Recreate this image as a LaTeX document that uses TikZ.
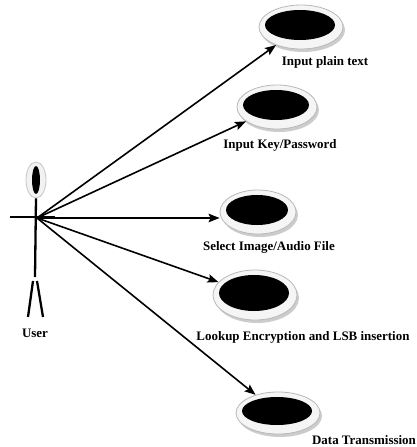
\documentclass[tikz,border=0pt]{standalone}
\usepackage{fontspec}
\setmainfont{Liberation Serif}
\usetikzlibrary{shapes.geometric,arrows.meta}
\newcommand\myucase[8]{%
  \fill[gray!40] (#2+2,#3+3) ellipse [x radius=#4, y radius=#5];
  \node[ucouter, minimum width=#4*2bp, minimum height=#5*2bp] (#1) at (#2,#3) {};
  \fill[black] (#2-1,#3-2) ellipse [x radius=#4-7, y radius=#5-7];
  \node[lab] (#1l) at (#7,#8) {#6};
}
\begin{document}
\begin{tikzpicture}[x=1bp,y=-1bp,
  ucouter/.style={ellipse, draw=gray!55, fill=gray!8, line width=0.8bp, inner sep=0pt},
  lab/.style={font=\fontsize{13}{15}\selectfont\bfseries, inner sep=0pt},
  arr/.style={line width=1.6bp, -{Stealth[length=11bp,width=8.5bp,inset=2bp]}},
  stick/.style={line width=2.3bp, line cap=butt}]
\useasboundingbox (0,0) rectangle (416,447);
% actor
\node[ellipse, draw=gray!45, fill=gray!10, line width=0.8bp, inner sep=0pt,
      minimum width=20bp, minimum height=36bp] (head) at (36,180) {};
\fill[black] (head.center) ellipse [x radius=4, y radius=14];
\coordinate (hand) at (37,218);
\coordinate (armL) at (10,217);
\coordinate (armR) at (55,217);
\coordinate (hip) at (35,277);
\coordinate (legLt) at (33,281);
\coordinate (legRt) at (37,281);
\coordinate (legLb) at (28,317);
\coordinate (legRb) at (43,317);
\draw[stick] (head.south) -- (hip);
\draw[stick] (armL) -- (armR);
\draw[stick] (legLt) -- (legLb);
\draw[stick] (legRt) -- (legRb);
\node[lab] (user) at (35,333) {User};
% use cases
\myucase{uca}{301}{27}{42}{22}{Input plain text}{325}{62}
\myucase{ucb}{277}{107}{40}{22}{Input Key/Password}{280}{145}
\myucase{ucc}{258}{212}{38}{22}{Select Image/Audio File}{269}{247}
\myucase{ucd}{255}{295}{42}{25}{Lookup Encryption and LSB insertion}{303}{337}
\myucase{uce}{278}{413}{42}{21}{Data Transmission}{364}{440}
% connectors
\draw[arr] (hand) -- (uca);
\draw[arr] (hand) -- (ucb);
\draw[arr] (hand) -- (hand -| ucc.west);
\draw[arr] (hand) -- (ucd);
\draw[arr] (hand) -- (uce);
\end{tikzpicture}
\end{document}
